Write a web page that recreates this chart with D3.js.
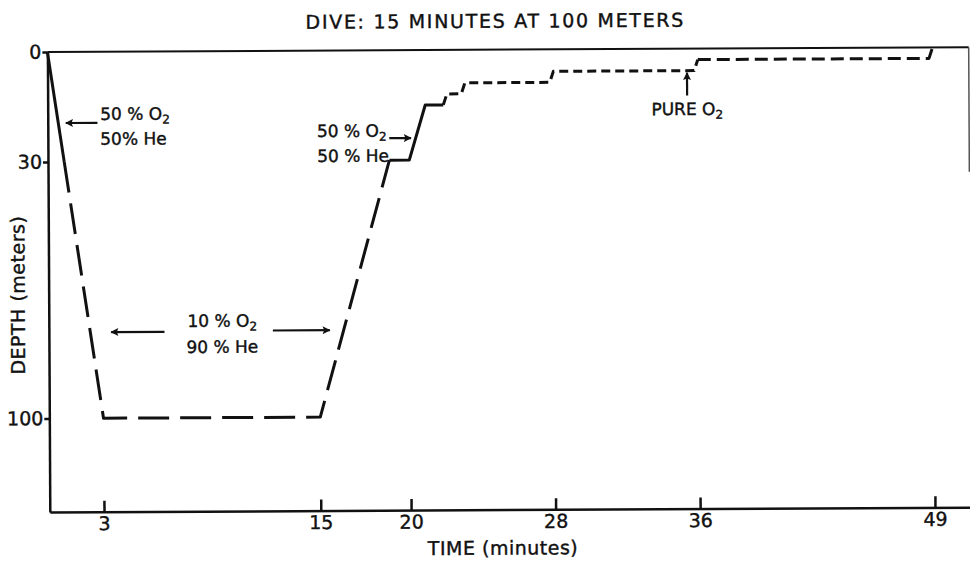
<!DOCTYPE html>
<html>
<head>
<meta charset="utf-8">
<title>Dive: 15 minutes at 100 meters - D3.js</title>
<script src="https://d3js.org/d3.v7.min.js"></script>
<style>
body {
margin: 0;
background: #fff;
}

svg text {
font-family: "DejaVu Sans", sans-serif;
fill: #111;
stroke: #111;
stroke-width: 0.4px;
}

.axis path,
.axis line {
stroke: #111;
stroke-width: 2.5px;
fill: none;
}

.axis text {
font-size: 19px;
}

.profile {
fill: none;
stroke: #111;
stroke-width: 3px;
stroke-linejoin: round;
}

.arrow {
stroke: #111;
stroke-width: 2.2px;
}
</style>
</head>
<body>
<svg width="970" height="562"></svg>

<script>
// tick marks on each axis
const timeTicks = [3, 15, 20, 28, 36, 49];
const depthTicks = [0, 30, 100];

// dive profile: [time (min), depth (m)], one array per gas / line style
const descent5050 = [[0, 0], [0.9, 30]];
const heliox1090 = [[0.9, 30], [3, 100], [15, 100], [18.9, 30]];
const ascent5050 = [[18.9, 30], [20, 30], [20.9, 15], [21.9, 15]];
const decoStops = [[21.9, 15], [22.1, 12], [22.9, 12], [23.1, 9], [27.8, 9], [28, 6], [35.8, 6], [36, 3]];
const pureO2 = [[36, 3], [48.8, 3], [49, 0]];

const svg = d3.select("svg");
const originX = 47.4, originY = 52;

// the drawing sits slightly askew on the page
const g = svg.append("g")
.attr("transform", `translate(${originX},${originY}) rotate(-0.3)`);

const x = d3.scaleLinear().domain([0, 51]).range([0, 921.3]);
const y = d3.scaleLinear().domain([0, 125.5]).range([0, 460]);

const defs = svg.append("defs");
defs.append("marker")
.attr("id", "head")
.attr("viewBox", "0 0 10 10")
.attr("refX", 9)
.attr("refY", 5)
.attr("markerWidth", 10)
.attr("markerHeight", 8)
.attr("markerUnits", "userSpaceOnUse")
.attr("orient", "auto")
.append("path")
.attr("d", "M0,0 L10,5 L0,10 L2,5 Z")
.attr("fill", "#111");

// surface line and frame edge
g.append("line")
.attr("x1", x(0)).attr("x2", x(51))
.attr("y1", y(0)).attr("y2", y(0))
.attr("stroke", "#111").attr("stroke-width", 2);

g.append("line")
.attr("x1", x(51)).attr("x2", x(51))
.attr("y1", y(0)).attr("y2", y(34))
.attr("stroke", "#555").attr("stroke-width", 1.5);

// axes
g.append("g")
.attr("class", "axis")
.attr("transform", `translate(0,${y(125.5)})`)
.call(d3.axisBottom(x).tickValues(timeTicks).tickSize(-11).tickSizeOuter(0).tickPadding(5));

g.append("g")
.attr("class", "axis")
.call(d3.axisLeft(y).tickValues(depthTicks).tickSize(5).tickSizeOuter(0).tickPadding(1));

g.selectAll(".axis .domain").attr("stroke-width", 2.6);

// profile legs
const line = d3.line().x((d) => x(d[0])).y((d) => y(d[1]));

const legs = [
{ pts: descent5050, dash: null },
{ pts: heliox1090, dash: "31,11" },
{ pts: ascent5050, dash: null },
{ pts: decoStops, dash: "9,5" },
{ pts: pureO2, dash: "13,6" },
];

g.selectAll(".profile")
.data(legs)
.enter()
.append("path")
.attr("class", "profile")
.attr("d", (d) => line(d.pts))
.attr("stroke-dasharray", (d) => d.dash);

// gas annotations: text rows with a subscript, and arrows
function gasLabel(tx, rows, anchor) {
rows.forEach(([depth, main, sub]) => {
const row = g.append("text")
.attr("x", x(tx))
.attr("y", y(depth))
.attr("text-anchor", anchor)
.style("font-size", "17px")
.text(main);
if (sub) {
row.append("tspan").attr("dy", 4).style("font-size", "12px").text(sub);
}
});
}

function arrow(t0, d0, t1, d1) {
g.append("line")
.attr("class", "arrow")
.attr("x1", x(t0)).attr("y1", y(d0))
.attr("x2", x(t1)).attr("y2", y(d1))
.attr("marker-end", "url(#head)");
}

gasLabel(2.9, [[18.6, "50 % O", "2"], [25.4, "50% He"]], "start");
arrow(2.75, 19.4, 1.0, 19.4);

gasLabel(14.9, [[23.6, "50 % O", "2"], [30.4, "50 % He"]], "start");
arrow(18.9, 24, 20.1, 24);

gasLabel(9.6, [[75.2, "10 % O", "2"], [82.3, "90 % He"]], "middle");
arrow(6.4, 76.5, 3.45, 76.5);
arrow(12.4, 76.3, 15.55, 76.3);

gasLabel(35.4, [[18.1, "PURE  O", "2"]], "middle");
arrow(35.4, 12.8, 35.4, 6.6);

// title and axis titles
g.append("text")
.attr("x", 448)
.attr("y", -22)
.attr("text-anchor", "middle")
.style("font-size", "19px")
.style("letter-spacing", "1.7px")
.text("DIVE:  15 MINUTES AT 100 METERS");

g.append("text")
.attr("x", 453)
.attr("y", 505)
.attr("text-anchor", "middle")
.style("font-size", "19px")
.style("letter-spacing", "0.5px")
.text("TIME (minutes)");

g.append("text")
.attr("transform", `translate(-24,243) rotate(-90)`)
.attr("text-anchor", "middle")
.style("font-size", "19px")
.style("letter-spacing", "0.5px")
.text("DEPTH (meters)");
</script>
</body>
</html>
